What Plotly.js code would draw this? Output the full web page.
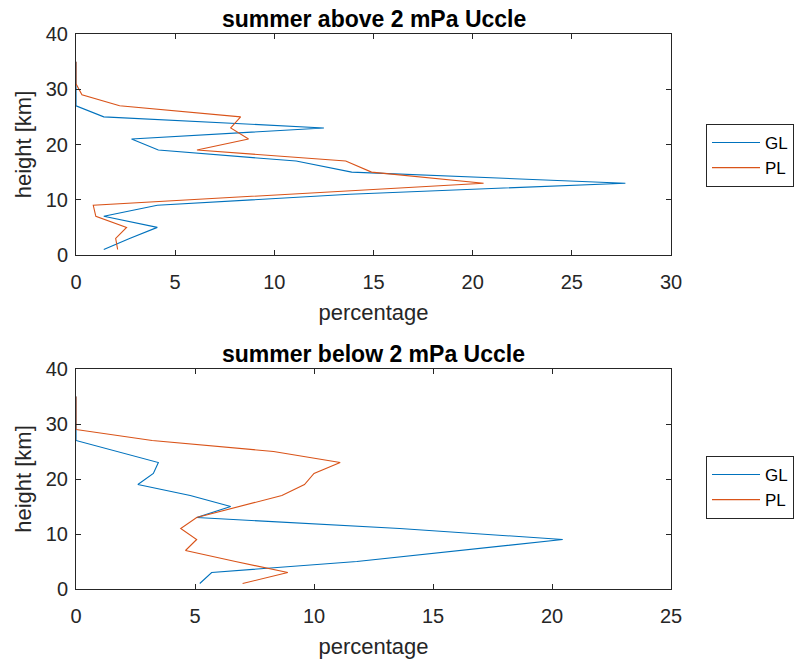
<!DOCTYPE html>
<html>
<head>
<meta charset="utf-8">
<script src="https://cdn.plot.ly/plotly-3.0.1.min.js"></script>
<style>html,body{margin:0;padding:0;background:#fff;}#chart{width:806px;height:664px;}</style>
</head>
<body>
<div id="chart"></div>
<script>
// Heights (km)
const heights = [1,3,5,7,9,11,13,15,17,19,21,23,25,27,29,31,33,35];

// Summer above 2 mPa Uccle
const glAbove = [1.4,2.7,4.1,1.4,4.1,13.8,27.7,13.9,11.1,4.15,2.8,12.5,1.4,0,0,0,0,0];
const plAbove = [2.1,2.0,2.55,1.0,0.87,10.8,20.55,14.9,13.6,6.1,8.7,7.8,8.3,2.2,0.3,0,0,0];

// Summer below 2 mPa Uccle
const glBelow = [5.2,5.7,11.8,16.1,20.45,13.6,5.07,6.5,4.8,2.6,3.25,3.46,1.7,0,0,0,0,0];
const plBelow = [7.0,8.9,6.7,4.6,5.07,4.4,5.07,6.9,8.65,9.6,10.0,11.1,8.3,3.2,0,0,0,0];

const seriesNames = ['GL','PL'];
const titles = ['summer above 2 mPa Uccle','summer below 2 mPa Uccle'];
const xTitle = 'percentage';
const yTitle = 'height [km]';

const BLUE = '#0072BD', ORANGE = '#D95319', AX = '#262626';
const FONT = 'Liberation Sans, Arial, sans-serif';

const traces = [
  {x: glAbove, y: heights, name: seriesNames[0], type:'scatter', mode:'lines', line:{color:BLUE,width:1.1}, xaxis:'x', yaxis:'y', legend:'legend'},
  {x: plAbove, y: heights, name: seriesNames[1], type:'scatter', mode:'lines', line:{color:ORANGE,width:1.1}, xaxis:'x', yaxis:'y', legend:'legend'},
  {x: glBelow, y: heights, name: seriesNames[0], type:'scatter', mode:'lines', line:{color:BLUE,width:1.1}, xaxis:'x2', yaxis:'y2', legend:'legend2'},
  {x: plBelow, y: heights, name: seriesNames[1], type:'scatter', mode:'lines', line:{color:ORANGE,width:1.1}, xaxis:'x2', yaxis:'y2', legend:'legend2'}
];

const W = 806, H = 664;
const xDom = [76/W, 671/W];
const yDom1 = [1-255/H, 1-34/H];
const yDom2 = [1-589/H, 1-369/H];

function xax(range, dtick, anchor){
  return {domain:xDom, range:range, dtick:dtick, tick0:0, anchor:anchor, showgrid:false, zeroline:false,
    showline:true, linecolor:AX, linewidth:1, mirror:'ticks', ticks:'inside', ticklen:5, tickcolor:AX,
    tickfont:{family:FONT,size:20,color:AX}, ticklabelstandoff:9,
    title:{text:xTitle, font:{family:FONT,size:22,color:AX}, standoff:12}};
}
function yax(domain, anchor){
  return {domain:domain, range:[0,40], dtick:10, tick0:0, anchor:anchor, showgrid:false, zeroline:false,
    showline:true, linecolor:AX, linewidth:1, mirror:'ticks', ticks:'inside', ticklen:5, tickcolor:AX,
    tickfont:{family:FONT,size:20,color:AX}, ticklabelstandoff:3,
    title:{text:yTitle, font:{family:FONT,size:22,color:AX}, standoff:8}};
}

const legendStyle = (y) => ({x:706/W, y:y, xanchor:'left', yanchor:'top', bgcolor:'#fff',
  bordercolor:AX, borderwidth:1, font:{family:FONT,size:17,color:'#000'}, tracegroupgap:0, itemwidth:48});

const layout = {
  width:W, height:H, margin:{l:0,r:0,t:0,b:0}, paper_bgcolor:'#fff', plot_bgcolor:'#fff',
  font:{family:FONT},
  xaxis: xax([0,30],5,'y'),
  yaxis: yax(yDom1,'x'),
  xaxis2: xax([0,25],5,'y2'),
  yaxis2: yax(yDom2,'x2'),
  showlegend:true,
  legend: legendStyle(1-124/H),
  legend2: legendStyle(1-456/H),
  annotations: [
    {text:'<b>'+titles[0]+'</b>', x:(xDom[0]+xDom[1])/2, y:1-19/H, xref:'paper', yref:'paper', xanchor:'center', yanchor:'middle', showarrow:false, font:{family:FONT,size:23,color:'#000'}},
    {text:'<b>'+titles[1]+'</b>', x:(xDom[0]+xDom[1])/2, y:1-354/H, xref:'paper', yref:'paper', xanchor:'center', yanchor:'middle', showarrow:false, font:{family:FONT,size:23,color:'#000'}}
  ]
};

Plotly.newPlot('chart', traces, layout, {displayModeBar:false, staticPlot:true});
</script>
</body>
</html>
